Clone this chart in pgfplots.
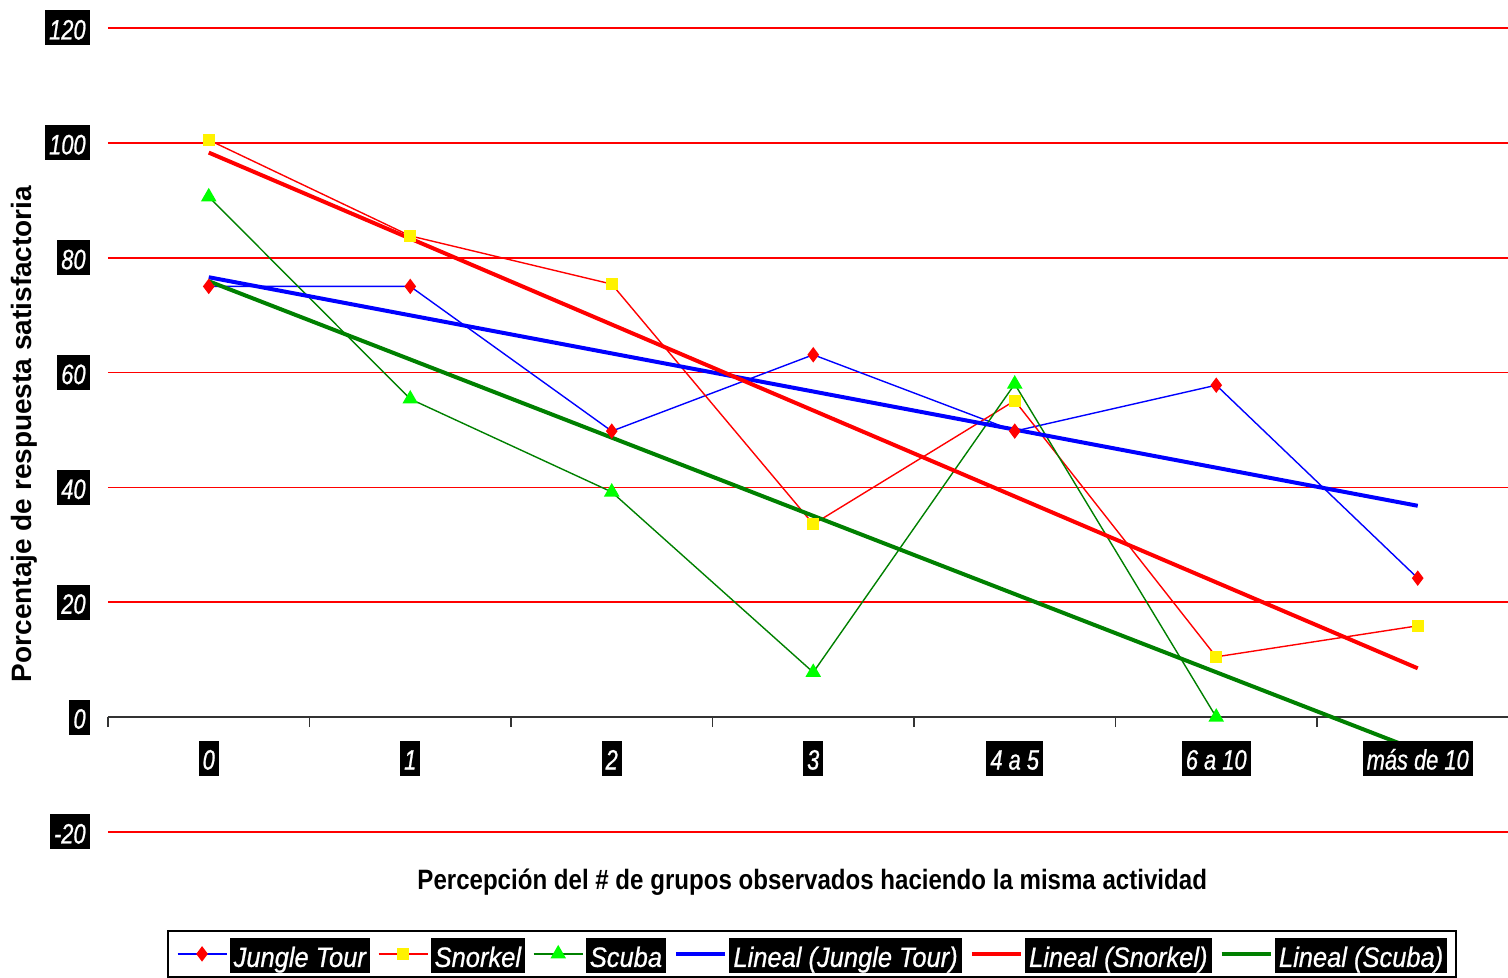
\documentclass[border=0pt]{standalone}
\usepackage{fontspec}
\setmainfont{Liberation Sans}
\newfontfamily\tickfont[FakeStretch=0.78,FakeBold=0.8]{Liberation Sans}
\newfontfamily\legfont[FakeStretch=0.91,FakeBold=0.8]{Liberation Sans}
\newfontfamily\labfont[FakeStretch=0.86]{Liberation Sans}
\usepackage{pgfplots}
\pgfplotsset{compat=1.18}

\definecolor{xlgreen}{RGB}{0,128,0}
\definecolor{xllime}{RGB}{0,255,0}

% white italic text on a black box, as Excel drew it
\newcommand\tbox[2]{{\setlength\fboxsep{0pt}\colorbox{black}{\rule[-3pt]{0pt}{17.5pt}\hspace{2pt}\textcolor{white}{#1\itshape\fontsize{14}{16}\selectfont #2}\hspace{2pt}}}}
\newcommand\tlab[1]{\tbox{\tickfont}{#1}}
\newcommand\legtxt[1]{\tbox{\legfont}{#1}}

\begin{document}
\begin{tikzpicture}
\begin{axis}[
  name=ax,
  scale only axis, width=700pt, height=402pt,
  xmin=-0.5, xmax=6.448, ymin=-20, ymax=120,
  set layers,
  axis x line=middle, axis y line=left,
  x axis line style={-, line width=0.9pt, draw=black!80},
  y axis line style={draw=none},
  xtick={0,...,6},
  xticklabels={\tlab{0},\tlab{1},\tlab{2},\tlab{3},\tlab{4 a 5},\tlab{6 a 10},\tlab{más de 10}},
  minor xtick={-0.5,0.5,1.5,2.5,3.5,4.5,5.5},
  major tick length=0pt, minor tick length=5pt, tick align=outside,
  minor x tick style={line width=0.9pt, draw=black!80},
  ytick={-20,0,20,40,60,80,100,120},
  yticklabels={\tlab{-20},\tlab{0},\tlab{20},\tlab{40},\tlab{60},\tlab{80},\tlab{100},\tlab{120}},
  ytick style={draw=none},
  ymajorgrids, grid style={red, line width=0.9pt},
  xticklabel style={inner sep=0pt, anchor=north, yshift=-11.5pt, /pgfplots/on layer=axis foreground},
  yticklabel style={inner sep=0pt, anchor=east, xshift=-9pt},
  xlabel={Percepción del \# de grupos observados haciendo la misma actividad},
  xlabel style={font=\labfont\bfseries\fontsize{14}{16}\selectfont, at={(axis description cs:0.503,-0.0622)}, anchor=center},
  ylabel={Porcentaje de respuesta satisfactoria},
  ylabel style={font=\bfseries\fontsize{14}{16}\selectfont, at={(axis description cs:-0.06,0.495)}, anchor=center},
  legend columns=6,
  legend style={at={(0.0421,-0.1219)}, anchor=north west, draw=black, line width=0.9pt,
    inner xsep=4.5pt, inner ysep=3.5pt, nodes={inner sep=0pt},
    /tikz/every odd column/.append style={column sep=1.2pt},
    /tikz/every even column/.append style={column sep=4pt}},
  legend image code/.code={\draw[mark repeat=2,mark phase=2] plot coordinates {(0pt,0pt) (12.25pt,0pt) (24.5pt,0pt)};},
]
% series
\addplot[blue, line width=0.7pt, mark=diamond*, mark size=3.3pt, mark options={draw=red, fill=red}]
  coordinates {(0,75) (1,75) (2,49.8) (3,63.1) (4,49.8) (5,57.8) (6,24.2)};
\addplot[red, line width=0.7pt, mark=square*, mark size=2.7pt, mark options={draw=yellow, fill=yellow}]
  coordinates {(0,100.5) (1,83.8) (2,75.4) (3,33.6) (4,55.1) (5,10.5) (6,15.9)};
\addplot[xlgreen, line width=0.7pt, mark=triangle*, mark size=3.8pt, mark options={draw=xllime, fill=xllime}]
  coordinates {(0,90.6) (1,55.4) (2,39.2) (3,7.8) (4,58) (5,0)};
% linear trends
\addplot[blue, line width=2pt] coordinates {(0,76.6) (6,36.8)};
\addplot[red, line width=2pt] coordinates {(0,98.3) (6,8.5)};
\addplot[xlgreen, line width=2pt] coordinates {(0,75.9) (6,-5.8)};
\legend{\legtxt{Jungle Tour},\legtxt{Snorkel},\legtxt{Scuba},\legtxt{Lineal (Jungle Tour)},\legtxt{Lineal (Snorkel)},\legtxt{Lineal (Scuba)}}
\end{axis}
\pgfresetboundingbox
\path[use as bounding box] ([shift={(-54pt,-73pt)}]ax.south west) rectangle ([shift={(0pt,14pt)}]ax.north east);
\end{tikzpicture}
\end{document}
